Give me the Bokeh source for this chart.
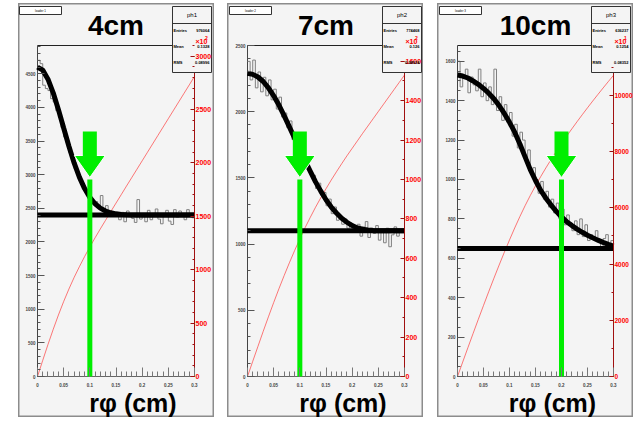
from bokeh.plotting import figure
from bokeh.models import Range1d, LinearAxis, FixedTicker, Label, Spacer
from bokeh.layouts import row, column
from bokeh.embed import file_html
from bokeh.resources import INLINE

# ---------------- data ----------------
titles = ["4cm", "7cm", "10cm"]
hist_names = ["ph1", "ph2", "ph3"]
loader_names = ["loader 1", "loader 2", "loader 3"]
entries = ["976064", "774468", "636237"]
means = ["0.1328", "0.126", "0.1254"]
rmss = ["0.08996", "0.08924", "0.08352"]
cut_positions = [0.1, 0.1, 0.2]
plateau_levels = [2400, 1100, 650]
left_max = [4920, 2500, 1680]
right_max = [3100, 1680, 11770]
right_exponent = ["2", "2", "1"]
x_label = "r\u03c6 (cm)"

x_ticks = [0, 0.05, 0.1, 0.15, 0.2, 0.25, 0.3]
x_tick_labels = ["0", "0.05", "0.1", "0.15", "0.2", "0.25", "0.3"]
left_ticks = [
    [0, 500, 1000, 1500, 2000, 2500, 3000, 3500, 4000, 4500],
    [0, 500, 1000, 1500, 2000, 2500],
    [0, 200, 400, 600, 800, 1000, 1200, 1400, 1600],
]
left_minor_step = [100, 100, 50]
right_ticks = [
    [0, 500, 1000, 1500, 2000, 2500, 3000],
    [0, 200, 400, 600, 800, 1000, 1200, 1400, 1600],
    [0, 2000, 4000, 6000, 8000, 10000],
]
right_minor_step = [100, 100, 1000]

# fit curves and cumulative curves sampled every 0.01 cm
curve_x = [0.00, 0.01, 0.02, 0.03, 0.04, 0.05, 0.06, 0.07, 0.08, 0.09, 0.10,
           0.11, 0.12, 0.13, 0.14, 0.15, 0.16, 0.17, 0.18, 0.19, 0.20,
           0.21, 0.22, 0.23, 0.24, 0.25, 0.26, 0.27, 0.28, 0.29, 0.30]
fit1 = [4600, 4554, 4420, 4217, 3966, 3693, 3423, 3175, 2963, 2793, 2662,
        2568, 2503, 2460, 2434, 2418, 2409, 2404, 2402, 2401, 2400,
        2400, 2400, 2400, 2400, 2400, 2400, 2400, 2400, 2400, 2400]
fit2 = [2290, 2282, 2262, 2228, 2180, 2120, 2050, 1970, 1885, 1800, 1720,
        1630, 1550, 1470, 1400, 1335, 1280, 1235, 1195, 1165, 1140,
        1122, 1112, 1106, 1103, 1101, 1100, 1100, 1100, 1100, 1100]
fit3 = [1530, 1525, 1515, 1500, 1483, 1462, 1438, 1410, 1375, 1335, 1290,
        1240, 1180, 1115, 1050, 995, 945, 905, 870, 838, 810,
        786, 766, 748, 732, 717, 704, 692, 681, 671, 662]
cum1 = [0, 151, 299, 441, 576, 702, 819, 928, 1028, 1123, 1213,
        1299, 1382, 1463, 1544, 1624, 1703, 1783, 1862, 1941, 2020,
        2099, 2178, 2257, 2336, 2415, 2494, 2573, 2652, 2731, 2810]
cum2 = [0, 77, 153, 229, 303, 375, 445, 512, 577, 639, 698,
        755, 808, 859, 907, 953, 997, 1039, 1080, 1120, 1158,
        1196, 1234, 1271, 1308, 1345, 1382, 1419, 1456, 1493, 1530]
cum3 = [0, 513, 1024, 1530, 2032, 2526, 3014, 3492, 3960, 4415, 4856,
        5281, 5688, 6074, 6437, 6781, 7107, 7418, 7716, 8003, 8279,
        8548, 8808, 9063, 9311, 9555, 9794, 10028, 10259, 10486, 10710]

# histograms, 60 bins of 0.005 cm from 0 to 0.3
hist1 = [4700, 4650, 4330, 4280, 4250, 4130, 4080, 3950, 3850, 3700,
         3560, 3470, 3330, 3240, 3090, 3020, 2930, 2840, 2760, 2700,
         2650, 2560, 2600, 2520, 2690, 2470, 2540, 2380, 2440, 2400,
         2420, 2330, 2440, 2300, 2460, 2380, 2350, 2290, 2630, 2340,
         2410, 2300, 2470, 2330, 2400, 2490, 2340, 2270, 2390, 2470,
         2310, 2260, 2480, 2370, 2460, 2400, 2330, 2480, 2420, 2360]
hist2 = [2380, 2240, 2390, 2180, 2300, 2150, 2260, 2120, 2240, 2090,
         2170, 2020, 2110, 1960, 1990, 1880, 1930, 1790, 1800, 1770,
         1700, 1600, 1650, 1560, 1540, 1520, 1420, 1460, 1370, 1390,
         1290, 1340, 1230, 1280, 1180, 1200, 1150, 1190, 1120, 1160,
         1090, 1140, 1150, 1060, 1130, 1170, 1050, 1120, 1080, 1140,
         1030, 1100, 1010, 1120, 980, 1070, 1130, 1060, 1090, 1100]
hist3 = [1600, 1470, 1530, 1560, 1440, 1520, 1480, 1450, 1560, 1420,
         1490, 1400, 1470, 1380, 1560, 1350, 1420, 1300, 1380, 1290,
         1340, 1220, 1280, 1160, 1240, 1200, 1110, 1150, 1040, 1060,
         1000, 930, 990, 900, 940, 860, 900, 830, 880, 800,
         850, 770, 820, 780, 740, 790, 720, 800, 710, 770,
         690, 720, 700, 740, 680, 650, 700, 720, 640, 690]
hist_lo, hist_hi, hist_bins = 0.0, 0.3, 60

fits = [fit1, fit2, fit3]
cums = [cum1, cum2, cum3]
hists = [hist1, hist2, hist3]

# ---------------- layout / style ----------------
PAD = "#f4f4f4"
FONT = "Liberation Sans"
FIG_W, FIG_H = 196, 414          # pad size in pixels
INNER_L = [19, 20, 20]           # inner frame left edge inside the pad
INNER_W = [157, 157, 156]        # inner frame width
INNER_T, INNER_H = 42, 331       # inner frame top and height
X0, X1 = 0.0, 0.3


def make_panel(i):
    ymax = left_max[i]
    xpp = (X1 - X0) / INNER_W[i]
    ypp = ymax / INNER_H
    rpp = right_max[i] / INNER_H
    L, W = INNER_L[i], INNER_W[i]
    R_gap = FIG_W - L - W
    B_gap = FIG_H - INNER_T - INNER_H

    p = figure(width=FIG_W, height=FIG_H,
               x_range=Range1d(X0 - L * xpp, X1 + R_gap * xpp),
               y_range=Range1d(-B_gap * ypp, ymax + INNER_T * ypp),
               output_backend="svg", toolbar_location=None,
               min_border=0, min_border_left=0, min_border_right=0,
               min_border_top=0, min_border_bottom=0,
               background_fill_color=PAD, border_fill_color=PAD,
               outline_line_color="#8c8c8c", outline_line_width=2)
    p.grid.visible = False
    p.extra_y_ranges = {"cum": Range1d(-B_gap * rpp, right_max[i] + INNER_T * rpp)}

    def X(ox):           # pixel offset from inner-frame left -> data x
        return X0 + ox * xpp

    def Y(oy):           # pixel offset below inner-frame top -> data y
        return ymax - oy * ypp

    # inner frame lines
    p.line([X0, X1], [ymax, ymax], line_color="#222", line_width=1)
    p.line([X0, X0], [0, ymax], line_color="#444", line_width=1)
    p.line([X0, X1], [0, 0], line_color="#666", line_width=1)

    # bottom axis
    xa = p.xaxis[0]
    xa.fixed_location = 0
    minor_x = [round(k * 0.01, 2) for k in range(31)]
    xa.ticker = FixedTicker(ticks=x_ticks, minor_ticks=minor_x)
    xa.major_label_overrides = {t: s for t, s in zip(x_ticks, x_tick_labels)}
    xa.major_tick_in, xa.major_tick_out = 9, 0
    xa.minor_tick_in, xa.minor_tick_out = 5, 0
    xa.axis_line_color = None
    xa.major_tick_line_color = "#777"
    xa.minor_tick_line_color = "#777"
    xa.major_label_text_font = FONT
    xa.major_label_text_font_size = "4.5px"
    xa.major_label_text_font_style = "bold"
    xa.major_label_standoff = 6

    # left axis
    ya = p.yaxis[0]
    ya.fixed_location = X0
    ya.ticker = FixedTicker(ticks=left_ticks[i],
                            minor_ticks=list(range(0, ymax + 1, left_minor_step[i])))
    ya.major_tick_in, ya.major_tick_out = 7, 0
    ya.minor_tick_in, ya.minor_tick_out = 3, 0
    ya.axis_line_color = None
    ya.major_tick_line_color = "#555"
    ya.minor_tick_line_color = "#555"
    ya.major_label_text_font = FONT
    ya.major_label_text_font_size = "4.5px"
    ya.major_label_text_font_style = "bold"
    ya.major_label_standoff = 2

    # histogram (step)
    bw = (hist_hi - hist_lo) / hist_bins
    edges = [hist_lo + k * bw for k in range(hist_bins + 1)]
    h = hists[i]
    p.step(edges, h + [h[-1]], mode="after", line_color="#808080", line_width=1)

    # cumulative (right axis)
    p.line(curve_x, cums[i], y_range_name="cum", line_color="#ff2020",
           line_width=0.8, line_alpha=0.75)

    # fit and plateau
    p.line(curve_x, fits[i], line_color="black", line_width=5)
    p.line([X0, X1], [plateau_levels[i]] * 2, line_color="black", line_width=5)

    # green arrow at the cut position
    cx = cut_positions[i]
    p.vbar(x=cx, width=5 * xpp, bottom=0, top=Y(134),
           fill_color="#00ee00", line_color=None)
    p.patch([cx - 15.5 * xpp, cx + 15.5 * xpp, cx], [Y(110), Y(110), Y(132)],
            fill_color="#00ee00", line_color="white", line_width=1)
    p.quad(left=cx - 7 * xpp, right=cx + 7 * xpp, bottom=Y(110.5), top=Y(86),
           fill_color="#00ee00", line_color=None)

    # right (red) axis line
    p.line([X1, X1], [0, ymax], line_color="#a01010", line_width=1)
    ra = LinearAxis(y_range_name="cum", fixed_location=X1,
                    ticker=FixedTicker(ticks=right_ticks[i],
                                       minor_ticks=list(range(0, right_max[i] + 1, right_minor_step[i]))))
    ra.axis_line_color = None
    ra.major_tick_line_color = "#a01010"
    ra.minor_tick_line_color = "#a01010"
    ra.major_tick_in, ra.major_tick_out = 4, 0
    ra.minor_tick_in, ra.minor_tick_out = 2, 0
    ra.major_label_text_color = "#ff0000"
    ra.major_label_text_font = FONT
    ra.major_label_text_font_style = "bold"
    ra.major_label_text_font_size = "7px" if i < 2 else "6.5px"
    ra.major_label_standoff = 1
    p.add_layout(ra, "right")

    # stats box
    p.quad(left=X(W - 22), right=X(W + 17), top=Y(-39), bottom=Y(27),
           fill_color=PAD, line_color="#333", line_width=1)
    p.line([X(W - 22), X(W + 17)], [Y(-22), Y(-22)], line_color="#333", line_width=1)
    p.add_layout(Label(x=X(W - 2.5), y=Y(-31), text=hist_names[i],
                       text_font=FONT, text_font_size="6px", text_align="center",
                       text_baseline="middle", text_color="black"))
    for name, val, oy in [("Entries", entries[i], -15), ("Mean", means[i], 1),
                          ("RMS", rmss[i], 17)]:
        p.add_layout(Label(x=X(W - 21), y=Y(oy), text=name, text_font=FONT,
                           text_font_style="bold", text_font_size="4px",
                           text_align="left", text_baseline="middle", text_color="black"))
        p.add_layout(Label(x=X(W + 15), y=Y(oy), text=val, text_font=FONT,
                           text_font_style="bold", text_font_size="4px",
                           text_align="right", text_baseline="middle", text_color="black"))

    # loader box (top left)
    p.quad(left=X(-18), right=X(24), top=Y(-39), bottom=Y(-31),
           fill_color="white", line_color="#333", line_width=1)
    p.add_layout(Label(x=X(3), y=Y(-35), text=loader_names[i], text_font=FONT,
                       text_font_size="3px", text_align="center",
                       text_baseline="middle", text_color="black"))

    # exponent on the red axis
    p.add_layout(Label(x=X(W + 1), y=Y(-4), text="\u00d710", text_font=FONT,
                       text_font_style="bold", text_font_size="7px",
                       text_color="#ff0000", text_baseline="middle"))
    p.add_layout(Label(x=X(W + 10.5), y=Y(-8), text=right_exponent[i], text_font=FONT,
                       text_font_style="bold", text_font_size="5px",
                       text_color="#ff0000", text_baseline="middle"))

    # title and x label
    p.add_layout(Label(x=X(W / 2), y=Y(-20), text=titles[i], text_font=FONT,
                       text_font_style="bold", text_font_size="28px",
                       text_align="center", text_baseline="middle",
                       text_color="black"))
    p.add_layout(Label(x=X(W / 2 + 17), y=Y(357), text=x_label, text_font=FONT,
                       text_font_style="bold", text_font_size="25px",
                       text_align="center", text_baseline="middle",
                       text_color="black"))
    return p


figs = [make_panel(i) for i in range(3)]
layout = column(
    Spacer(width=633, height=3),
    row(Spacer(width=18, height=FIG_H), figs[0], Spacer(width=13, height=FIG_H),
        figs[1], Spacer(width=14, height=FIG_H), figs[2]),
)

open("out.html", "w").write(file_html(layout, INLINE))
